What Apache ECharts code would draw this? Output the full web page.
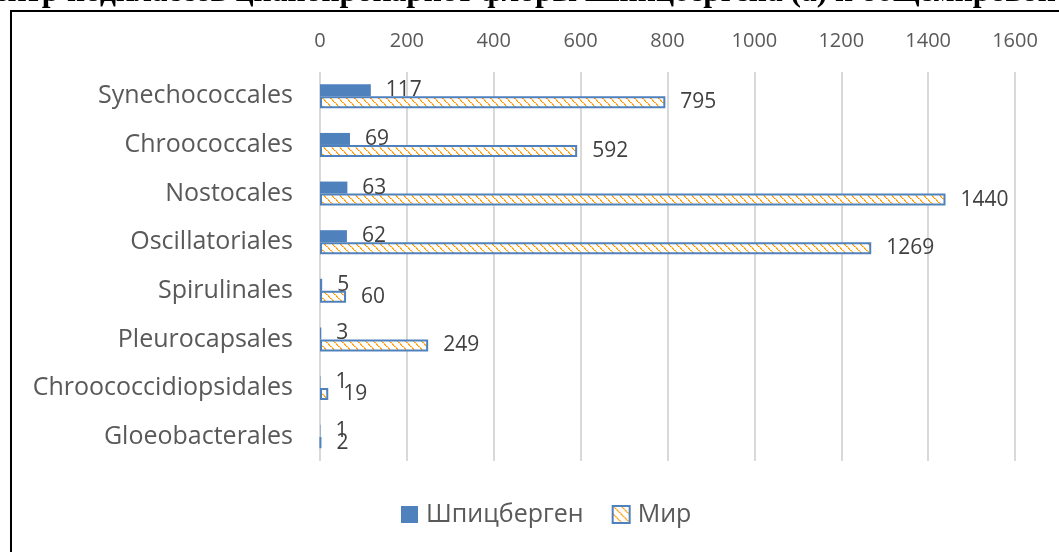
<!DOCTYPE html>
<html>
<head>
<meta charset="utf-8">
<script src="https://cdn.jsdelivr.net/npm/echarts@6/dist/echarts.min.js"></script>
<style>html,body{margin:0;padding:0;background:#fff;}#c{width:1059px;height:552px;}</style>
</head>
<body>
<div id="c"></div>
<script>
const categories = ['Synechococcales','Chroococcales','Nostocales','Oscillatoriales','Spirulinales','Pleurocapsales','Chroococcidiopsidales','Gloeobacterales'];
const svalbard = [117, 69, 63, 62, 5, 3, 1, 1];
const world = [795, 592, 1440, 1269, 60, 249, 19, 2];
const seriesNames = ['Шпицберген', 'Мир'];
const titleText = 'Спектр подклассов цианопрокариот флоры Шпицбергена (а) и общемировой';

function makeHatch() {
  const c = document.createElement('canvas');
  c.width = 8; c.height = 8;
  const g = c.getContext('2d');
  g.fillStyle = '#ffffff';
  g.fillRect(0, 0, 8, 8);
  for (let i = 0; i < 8; i++) {
    g.fillStyle = (i % 4 === 3) ? '#ffd79a' : '#ff9a00';
    g.fillRect(i, i, 1, 1);
    g.fillStyle = (i % 4 === 1) ? '#ffe2b5' : '#ffb84d';
    g.fillRect((i + 1) % 8, i, 1, 1);
  }
  return c;
}
const hatch = { image: makeHatch(), repeat: 'repeat' };

const chart = echarts.init(document.getElementById('c'), null, { renderer: 'canvas' });
const fontFamily = '"Open Sans", "Noto Sans", sans-serif';
chart.setOption({
  animation: false,
  backgroundColor: '#ffffff',
  graphic: [
    {
      type: 'text', x: 1056, y: 9,
      style: { text: titleText, font: 'bold 31.5px "Liberation Serif", serif', fill: '#000', align: 'right', verticalAlign: 'bottom' }
    },
    {
      type: 'rect', shape: { x: 11, y: 11, width: 1200, height: 700 },
      style: { fill: 'none', stroke: '#000', lineWidth: 2 }
    }
  ],
  grid: { left: 320, right: 44, top: 72, bottom: 91, containLabel: false },
  legend: {
    left: 401, top: 502, padding: 0, itemWidth: 17, itemHeight: 17, itemGap: 28,
    icon: 'rect',
    textStyle: { color: '#595959', fontSize: 25, fontFamily: fontFamily, padding: [0, 0, 0, 3] },
    data: seriesNames
  },
  xAxis: {
    type: 'value', position: 'top', min: 0, max: 1600, interval: 200,
    axisLine: { show: false }, axisTick: { show: false },
    axisLabel: { color: '#595959', fontSize: 20, fontFamily: fontFamily, margin: 21, formatter: v => String(v) },
    splitLine: { lineStyle: { color: '#d9d9d9', width: 2 } }
  },
  yAxis: {
    type: 'category', inverse: true, data: categories,
    axisLine: { show: false }, axisTick: { show: false },
    axisLabel: { color: '#595959', fontSize: 25, fontFamily: fontFamily, margin: 27 }
  },
  series: [
    {
      name: seriesNames[0], type: 'bar', data: svalbard, barWidth: 12, barGap: '0%',
      itemStyle: { color: '#4f81bd' },
      label: { show: true, position: 'right', distance: 15, color: '#404040', fontSize: 21, fontFamily: fontFamily }
    },
    {
      name: seriesNames[1], type: 'bar', data: world, barWidth: 12, barGap: '0%',
      itemStyle: { color: hatch, borderColor: '#4f81bd', borderWidth: 2 },
      label: { show: true, position: 'right', distance: 15, color: '#404040', fontSize: 21, fontFamily: fontFamily }
    }
  ]
});
</script>
</body>
</html>
